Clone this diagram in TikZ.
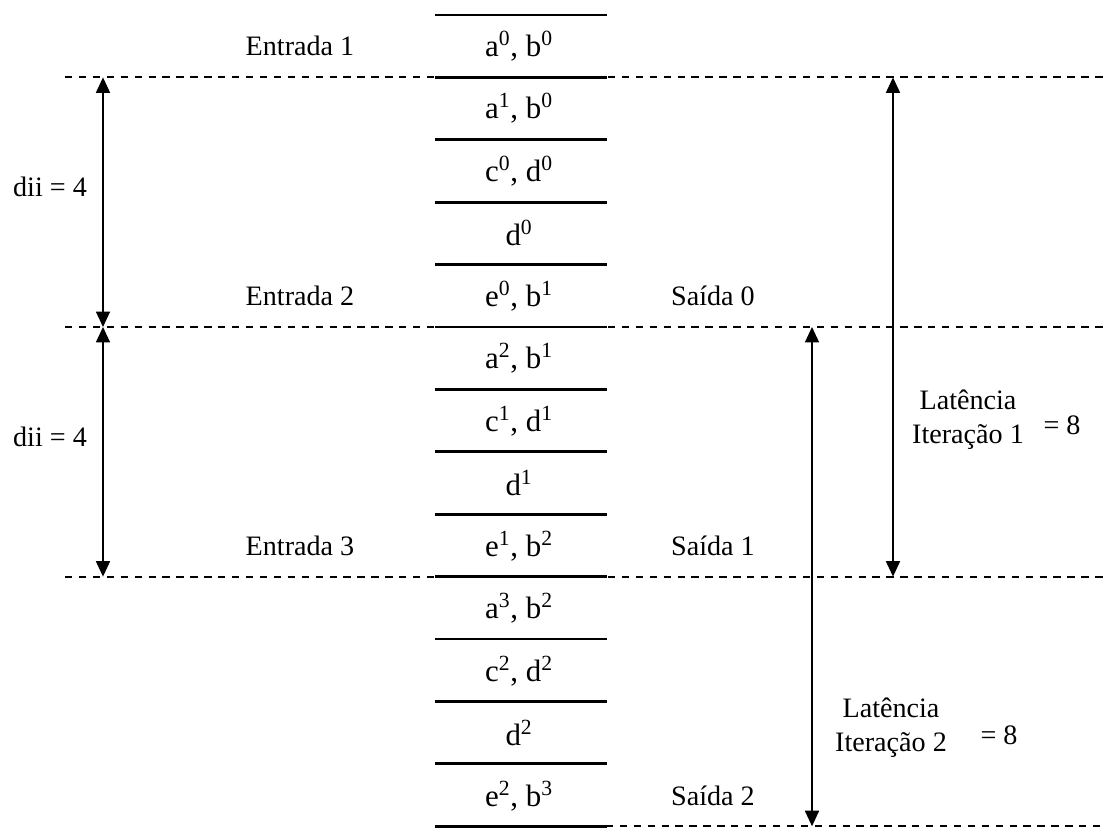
\documentclass[tikz,border=0pt]{standalone}
\usepackage{fontspec}
\setmainfont{Liberation Serif}
\usetikzlibrary{arrows.meta}

\tikzset{
	slot/.style={font=\fontsize{22}{26}\selectfont},
	tag/.style={font=\fontsize{20}{24}\selectfont, align=center},
	stage/.style={line width=2pt},
	cut/.style={line width=1.3pt, dash pattern=on 5.2pt off 4.7pt},
	span/.style={line width=1.1pt, {Triangle[length=11pt,width=10pt]}-{Triangle[length=11pt,width=10pt]}},
}

\begin{document}
\begin{tikzpicture}[x=0.025cm, y=-0.025cm]

	\useasboundingbox (0,0) rectangle (1112,828);

	% borders of the pipeline stages
	\foreach \i in {0,...,13} {
		\coordinate (l\i) at (435, 15+62.4*\i);
		\coordinate (r\i) at (607, 15+62.4*\i);
	}

	% iteration boundaries
	\coordinate (c1) at (65, 15+62.4*1);
	\coordinate (e1) at (1105, 15+62.4*1);
	\coordinate (c5) at (65, 15+62.4*5);
	\coordinate (e5) at (1105, 15+62.4*5);
	\coordinate (c9) at (65, 15+62.4*9);
	\coordinate (e9) at (1105, 15+62.4*9);
	\coordinate (c13) at (578, 15+62.4*13);
	\coordinate (e13) at (1105, 15+62.4*13);

	\draw[cut] (c1) -- (e1);
	\draw[cut] (c5) -- (e5);
	\draw[cut] (c9) -- (e9);
	\draw[cut] (c13) -- (e13);

	\foreach \i in {0,...,13}
		\draw[stage] (l\i) -- (r\i);

	% stage contents
	\node (s0) [slot] at (519, 46) {a\textsuperscript{0}, b\textsuperscript{0}};
	\node (s1) [slot] at (519, 108) {a\textsuperscript{1}, b\textsuperscript{0}};
	\node (s2) [slot] at (519, 171) {c\textsuperscript{0}, d\textsuperscript{0}};
	\node (s3) [slot] at (519, 233) {d\textsuperscript{0}};
	\node (s4) [slot] at (519, 296) {e\textsuperscript{0}, b\textsuperscript{1}};
	\node (s5) [slot] at (519, 358) {a\textsuperscript{2}, b\textsuperscript{1}};
	\node (s6) [slot] at (519, 421) {c\textsuperscript{1}, d\textsuperscript{1}};
	\node (s7) [slot] at (519, 483) {d\textsuperscript{1}};
	\node (s8) [slot] at (519, 546) {e\textsuperscript{1}, b\textsuperscript{2}};
	\node (s9) [slot] at (519, 608) {a\textsuperscript{3}, b\textsuperscript{2}};
	\node (s10) [slot] at (519, 671) {c\textsuperscript{2}, d\textsuperscript{2}};
	\node (s11) [slot] at (519, 733) {d\textsuperscript{2}};
	\node (s12) [slot] at (519, 796) {e\textsuperscript{2}, b\textsuperscript{3}};

	% inputs and outputs
	\node (in1) [tag] at (300, 46) {Entrada 1};
	\node (in2) [tag] at (300, 296) {Entrada 2};
	\node (in3) [tag] at (300, 546) {Entrada 3};
	\node (out0) [tag] at (713, 296) {Saída 0};
	\node (out1) [tag] at (713, 546) {Saída 1};
	\node (out2) [tag] at (713, 796) {Saída 2};

	% initiation interval
	\coordinate (d0) at (103, 15+62.4*1);
	\coordinate (d1) at (103, 15+62.4*5);
	\coordinate (d2) at (103, 15+62.4*9);
	\draw[span] (d0) -- (d1);
	\draw[span] (d1) -- (d2);
	\node (dii1) [tag] at (50, 187) {dii = 4};
	\node (dii2) [tag] at (50, 437) {dii = 4};

	% latency of each iteration
	\coordinate (a0) at (893, 15+62.4*1);
	\coordinate (a1) at (893, 15+62.4*9);
	\coordinate (b0) at (812, 15+62.4*5);
	\coordinate (b1) at (812, 15+62.4*13);
	\draw[span] (a0) -- (a1);
	\draw[span] (b0) -- (b1);
	\node (lat1) [tag] at (968, 420) {Latência\\Iteração 1};
	\node (eq1) [tag] at (1062, 425) {= 8};
	\node (lat2) [tag] at (891, 728) {Latência\\Iteração 2};
	\node (eq2) [tag] at (999, 735) {= 8};

\end{tikzpicture}
\end{document}
